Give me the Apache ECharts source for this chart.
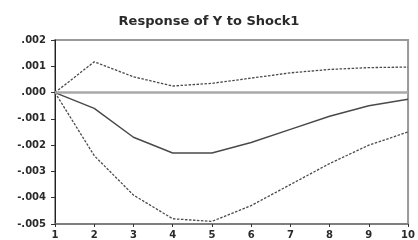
<!DOCTYPE html>
<html>
<head>
<meta charset="utf-8">
<script src="https://cdn.jsdelivr.net/npm/echarts@6/dist/echarts.min.js"></script>
<style>html,body{margin:0;padding:0;background:#fff}#main{width:418px;height:240px}</style>
</head>
<body>
<div id="main"></div>
<script>
var periods=[1,2,3,4,5,6,7,8,9,10];
var upper=[0,0.00117,0.0006,0.00025,0.00035,0.00055,0.00075,0.00088,0.00095,0.00097];
var resp=[0,-0.0006,-0.0017,-0.0023,-0.0023,-0.0019,-0.0014,-0.0009,-0.0005,-0.00025];
var lower=[0,-0.0024,-0.0039,-0.0048,-0.0049,-0.0043,-0.0035,-0.0027,-0.002,-0.0015];

function pairs(arr){
	var out=[];
	for(var i=0;i<periods.length;i++){ out.push([periods[i],arr[i]]); }
	return out;
}
// .002 / -.001 style labels
function fmt(v){
	var n=Math.round(v*1000);
	return (n<0?'-':'')+'.00'+Math.abs(n);
}

var myChart=echarts.init(document.getElementById('main'));
var option={
	animation:false,
	title:{
		text:'Response of Y to Shock1',
		left:'center',top:10,
		textStyle:{fontFamily:'DejaVu Sans',fontSize:13,fontWeight:'bold',color:'#2a2a2a'}
	},
	grid:{left:55,right:5,top:40,bottom:13,show:true,borderColor:'#999',borderWidth:2},
	xAxis:{
		type:'value',min:1,max:10,interval:1,
		axisLine:{show:true,onZero:false,lineStyle:{color:'#777',width:1.5}},
		axisTick:{show:true,length:3,lineStyle:{color:'#333'}},
		axisLabel:{fontFamily:'DejaVu Sans',fontSize:10,fontWeight:'bold',color:'#2a2a2a',margin:6},
		splitLine:{show:false}
	},
	yAxis:{
		type:'value',min:-0.005,max:0.002,interval:0.001,
		axisLine:{show:true,onZero:false,lineStyle:{color:'#222',width:1}},
		axisTick:{show:true,length:4,lineStyle:{color:'#333'}},
		axisLabel:{fontFamily:'DejaVu Sans',fontSize:10,fontWeight:'bold',color:'#2a2a2a',margin:9,formatter:fmt},
		splitLine:{show:false}
	},
	series:[
		{
			type:'line',data:pairs(resp),symbol:'none',
			lineStyle:{color:'#4a4a4a',width:1.5},
			markLine:{silent:true,symbol:'none',label:{show:false},
				lineStyle:{color:'#a8a8a8',width:2.5,type:'solid'},data:[{yAxis:0}]}
		},
		{type:'line',data:pairs(upper),symbol:'none',lineStyle:{color:'#4a4a4a',width:1.3,type:[2.5,1.5]}},
		{type:'line',data:pairs(lower),symbol:'none',lineStyle:{color:'#4a4a4a',width:1.3,type:[2.5,1.5]}}
	]
};
myChart.setOption(option);
</script>
</body>
</html>
